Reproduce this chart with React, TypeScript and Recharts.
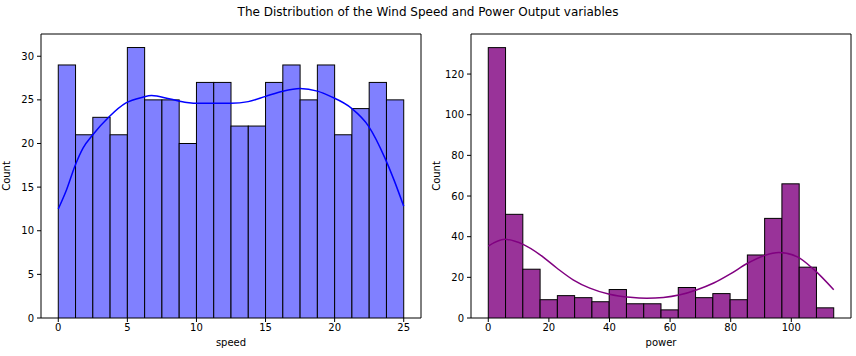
import React from 'react';
import { ComposedChart, Bar, Line, XAxis, YAxis, ReferenceArea } from 'recharts';

// histogram counts (20 bins each)
const speedCounts = [29, 21, 23, 21, 31, 25, 25, 20, 27, 27, 22, 22, 27, 29, 25, 29, 21, 24, 27, 25];
const powerCounts = [133, 51, 24, 9, 11, 10, 8, 14, 7, 7, 4, 15, 10, 12, 9, 31, 49, 66, 25, 5];
const speedBin = 1.25;
const powerBin = 5.7;

// kde curves (x, density scaled to counts)
const speedKdeX = [0, 0.6, 1.2, 1.8, 2.5, 3.7, 4.9, 6.1, 6.75, 8.1, 9.3, 10.25, 12.5, 13.75, 15, 16.25, 17.5, 18.75, 19.7, 21.25, 22.45, 23.65, 24.3, 25];
const speedKdeY = [12.5, 14.7, 17.4, 19.5, 21.0, 23.1, 24.65, 25.3, 25.5, 25.1, 24.7, 24.6, 24.6, 24.8, 25.4, 26.0, 26.3, 26.0, 25.4, 24.0, 22.0, 18.3, 15.8, 12.8];
const powerKdeX = [0, 5.4, 11.5, 17, 22.6, 28, 33.5, 40, 46.8, 52.3, 57.8, 63.3, 68.9, 74.4, 79.9, 85.4, 91, 95.9, 102, 107.5, 114];
const powerKdeY = [35.4, 38.7, 36.2, 31.2, 24.6, 18.8, 14.7, 11.7, 10.2, 9.75, 10.1, 11.4, 13.9, 17.2, 21.7, 26.8, 30.7, 32.2, 30.1, 23.8, 13.9];

const speedXTicks = [0, 5, 10, 15, 20, 25];
const speedYTicks = [0, 5, 10, 15, 20, 25, 30];
const powerXTicks = [0, 20, 40, 60, 80, 100];
const powerYTicks = [0, 20, 40, 60, 80, 100, 120];

const FONT = 'DejaVu Sans';
const W = 430;
const H = 356;
const margin = { top: 34, right: 9, bottom: 8, left: 6 };
const yAxisW = 35;
const xAxisH = 30;
const plotW = W - margin.left - margin.right - yAxisW;

type HistProps = {
  counts: number[];
  bin: number;
  kdeX: number[];
  kdeY: number[];
  xDomain: [number, number];
  yDomain: [number, number];
  xTicks: number[];
  yTicks: number[];
  fill: string;
  line: string;
  xLabel: string;
};

const Hist = (p: HistProps) => {
  const bins = p.counts.map((c, i) => ({ x: p.bin * (i + 0.5), count: c }));
  const kde = p.kdeX.map((x, i) => ({ x, kde: p.kdeY[i] }));
  const barPx = (p.bin * plotW) / (p.xDomain[1] - p.xDomain[0]);
  const tickStyle = { fontSize: 10, fill: '#000', fontFamily: FONT };

  // recharts centres each bar on its x value; widen it to the full bin width
  const binShape = (s: any) => {
    const cx = s.x + s.width / 2;
    return <rect x={cx - barPx / 2} y={s.y} width={barPx} height={s.height} fill={p.fill} stroke="#000" strokeWidth={1} />;
  };

  return (
    <ComposedChart width={W} height={H} data={bins} margin={margin}>
      <XAxis
        dataKey="x"
        type="number"
        domain={p.xDomain}
        ticks={p.xTicks}
        allowDataOverflow
        height={xAxisH}
        axisLine={false}
        tickSize={4}
        tickMargin={2}
        tickLine={{ stroke: '#000' }}
        tick={tickStyle}
        label={{ value: p.xLabel, position: 'insideBottom', offset: 2, style: { fontSize: 10, fill: '#000', fontFamily: FONT } }}
      />
      <YAxis
        type="number"
        domain={p.yDomain}
        ticks={p.yTicks}
        allowDataOverflow
        width={yAxisW}
        axisLine={false}
        tickSize={4}
        tickMargin={3}
        tickLine={{ stroke: '#000' }}
        tick={tickStyle}
        label={{ value: 'Count', angle: -90, position: 'insideLeft', offset: 0, style: { textAnchor: 'middle', fontSize: 10, fill: '#000', fontFamily: FONT } }}
      />
      <Bar dataKey="count" shape={binShape} isAnimationActive={false} />
      <Line data={kde} dataKey="kde" type="monotone" stroke={p.line} strokeWidth={1.5} dot={false} activeDot={false} isAnimationActive={false} />
      <ReferenceArea x1={p.xDomain[0]} x2={p.xDomain[1]} y1={p.yDomain[0]} y2={p.yDomain[1]} fill="none" stroke="#000" strokeWidth={1} ifOverflow="visible" />
    </ComposedChart>
  );
};

export default function App() {
  return (
    <div style={{ position: 'absolute', left: 0, top: 0, width: 856, height: 356, background: '#fff', fontFamily: FONT }}>
      <div style={{ position: 'absolute', top: 5, left: 0, width: 856, textAlign: 'center', fontSize: 12, color: '#000' }}>
        The Distribution of the Wind Speed and Power Output variables
      </div>
      <div style={{ position: 'absolute', left: 0, top: 0 }}>
        <Hist
          counts={speedCounts}
          bin={speedBin}
          kdeX={speedKdeX}
          kdeY={speedKdeY}
          xDomain={[-1.25, 26.25]}
          yDomain={[0, 32.55]}
          xTicks={speedXTicks}
          yTicks={speedYTicks}
          fill="#8080ff"
          line="#0000ff"
          xLabel="speed"
        />
      </div>
      <div style={{ position: 'absolute', left: 430, top: 0 }}>
        <Hist
          counts={powerCounts}
          bin={powerBin}
          kdeX={powerKdeX}
          kdeY={powerKdeY}
          xDomain={[-5.7, 119.7]}
          yDomain={[0, 139.7]}
          xTicks={powerXTicks}
          yTicks={powerYTicks}
          fill="#993399"
          line="#800080"
          xLabel="power"
        />
      </div>
    </div>
  );
}
